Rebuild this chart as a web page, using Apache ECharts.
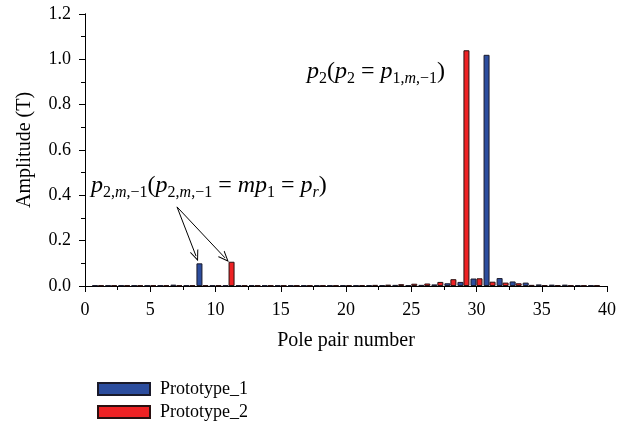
<!DOCTYPE html>
<html>
<head>
<meta charset="utf-8">
<script src="https://cdn.jsdelivr.net/npm/echarts@6/dist/echarts.min.js"></script>
<style>html,body{margin:0;padding:0;background:#fff}#c{width:628px;height:430px}</style>
</head>
<body>
<div id="c"></div>
<script>
// Pole pair numbers
var poles = [1,2,3,4,5,6,7,8,9,10,11,12,13,14,15,16,17,18,19,20,21,22,23,24,25,26,27,28,29,30,31,32,33,34,35,36,37,38,39];
// Prototype_1 amplitudes (T)
var proto1 = [0.003,0.003,0.003,0.003,0.003,0.003,0.006,0.003,0.100,0.003,0.003,0.003,0.004,0.003,0.003,0.003,0.003,0.003,0.003,0.003,0.003,0.004,0.004,0.005,0.004,0.005,0.007,0.012,0.018,0.033,1.020,0.035,0.020,0.015,0.007,0.006,0.006,0.004,0.003];
// Prototype_2 amplitudes (T)
var proto2 = [0.003,0.003,0.003,0.003,0.003,0.003,0.003,0.003,0.003,0.003,0.107,0.003,0.003,0.003,0.003,0.003,0.003,0.003,0.003,0.004,0.004,0.005,0.006,0.008,0.010,0.011,0.018,0.030,1.040,0.034,0.019,0.015,0.012,0.005,0.004,0.004,0.003,0.003,0.003];
var seriesNames = ['Prototype_1', 'Prototype_2'];
var xTicks = {min: 0, max: 40, interval: 5};
var yTicks = {min: 0, max: 1.2, interval: 0.2};
// annotation arrows (data coords): start, end at bar tops
var arrowStart = [7.28, 0.349];
var arrowEnds = [[8.74, 0.132], [10.96, 0.124]];

var FONT = 'Liberation Serif';
function pairs(xs, ys){ return xs.map(function(x,i){ return [x, ys[i]]; }); }

var chart = echarts.init(document.getElementById('c'), null, {renderer: 'canvas'});
var axisLine = {show: true, lineStyle: {color: '#000', width: 1}};
var openArrow = 'path://M5,0 L10,11 L8.8,11 L5,2.6 L1.2,11 L0,11 Z';

var subRich = {
  i: {fontFamily: FONT, fontStyle: 'italic', fontSize: 24, color: '#000', lineHeight: 30},
  n: {fontFamily: FONT, fontSize: 24, color: '#000', lineHeight: 30},
  s: {fontFamily: FONT, fontSize: 16, color: '#000', lineHeight: 14, verticalAlign: 'bottom'},
  si: {fontFamily: FONT, fontSize: 16, fontStyle: 'italic', color: '#000', lineHeight: 14, verticalAlign: 'bottom'}
};

chart.setOption({
  animation: false,
  backgroundColor: '#fff',
  grid: {left: 85, right: 21, top: 14, bottom: 144},
  legend: {
    data: seriesNames,
    orient: 'vertical',
    left: 97, top: 380, padding: 0,
    itemWidth: 52, itemHeight: 12, itemGap: 5,
    icon: 'rect',
    textStyle: {fontFamily: FONT, fontSize: 18, color: '#000', lineHeight: 17, padding: [0,0,0,5]}
  },
  xAxis: [{
    type: 'value', min: xTicks.min, max: xTicks.max, interval: xTicks.interval,
    name: 'Pole pair number', nameLocation: 'middle', nameGap: 45,
    nameTextStyle: {fontFamily: FONT, fontSize: 20, color: '#000'},
    axisLine: axisLine,
    axisTick: {show: true, length: 6, lineStyle: {color: '#000'}},
    minorTick: {show: true, splitNumber: 2, length: 4, lineStyle: {color: '#000'}},
    axisLabel: {fontFamily: FONT, fontSize: 18, color: '#000', margin: 15},
    splitLine: {show: false}
  }, {
    type: 'value', position: 'top', min: xTicks.min, max: xTicks.max,
    axisLine: axisLine, axisTick: {show: false}, axisLabel: {show: false}, splitLine: {show: false}
  }],
  yAxis: [{
    type: 'value', min: yTicks.min, max: yTicks.max, interval: yTicks.interval,
    name: 'Amplitude (T)', nameLocation: 'middle', nameGap: 50,
    nameTextStyle: {fontFamily: FONT, fontSize: 20, color: '#000'},
    axisLine: axisLine,
    axisTick: {show: true, length: 6, lineStyle: {color: '#000'}},
    minorTick: {show: true, splitNumber: 2, length: 4, lineStyle: {color: '#000'}},
    axisLabel: {fontFamily: FONT, fontSize: 18, color: '#000', margin: 14,
      formatter: function(v){ return v.toFixed(1); }},
    splitLine: {show: false}
  }, {
    type: 'value', position: 'right', min: yTicks.min, max: yTicks.max,
    axisLine: axisLine, axisTick: {show: false}, axisLabel: {show: false}, splitLine: {show: false}
  }],
  series: [{
    name: seriesNames[0], type: 'bar', xAxisIndex: 0, yAxisIndex: 0,
    data: pairs(poles, proto1), barWidth: 6, barGap: '0%',
    itemStyle: {color: '#2c4d9e', borderColor: '#1a1a2a', borderWidth: 1},
    markLine: {
      silent: true, animation: false,
      symbol: ['none', openArrow], symbolSize: [9, 11],
      label: {show: false},
      lineStyle: {color: '#000', width: 1, type: 'solid'},
      data: arrowEnds.map(function(e){ return [{coord: arrowStart}, {coord: e}]; })
    }
  }, {
    name: seriesNames[1], type: 'bar', xAxisIndex: 0, yAxisIndex: 0,
    data: pairs(poles, proto2), barWidth: 6, barGap: '0%',
    itemStyle: {color: '#ee2224', borderColor: '#2a1010', borderWidth: 1}
  }],
  graphic: [{
    type: 'text', left: 91, top: 174,
    style: {
      text: '{i|p}{s|2,}{si|m}{s|,−1}{n|(}{i|p}{s|2,}{si|m}{s|,−1}{n| = }{i|mp}{s|1}{n| = }{i|p}{si|r}{n|)}',
      rich: subRich
    }
  }, {
    type: 'text', left: 307, top: 60,
    style: {
      text: '{i|p}{s|2}{n|(}{i|p}{s|2}{n| = }{i|p}{s|1,}{si|m}{s|,−1}{n|)}',
      rich: subRich
    }
  }]
});
</script>
</body>
</html>
